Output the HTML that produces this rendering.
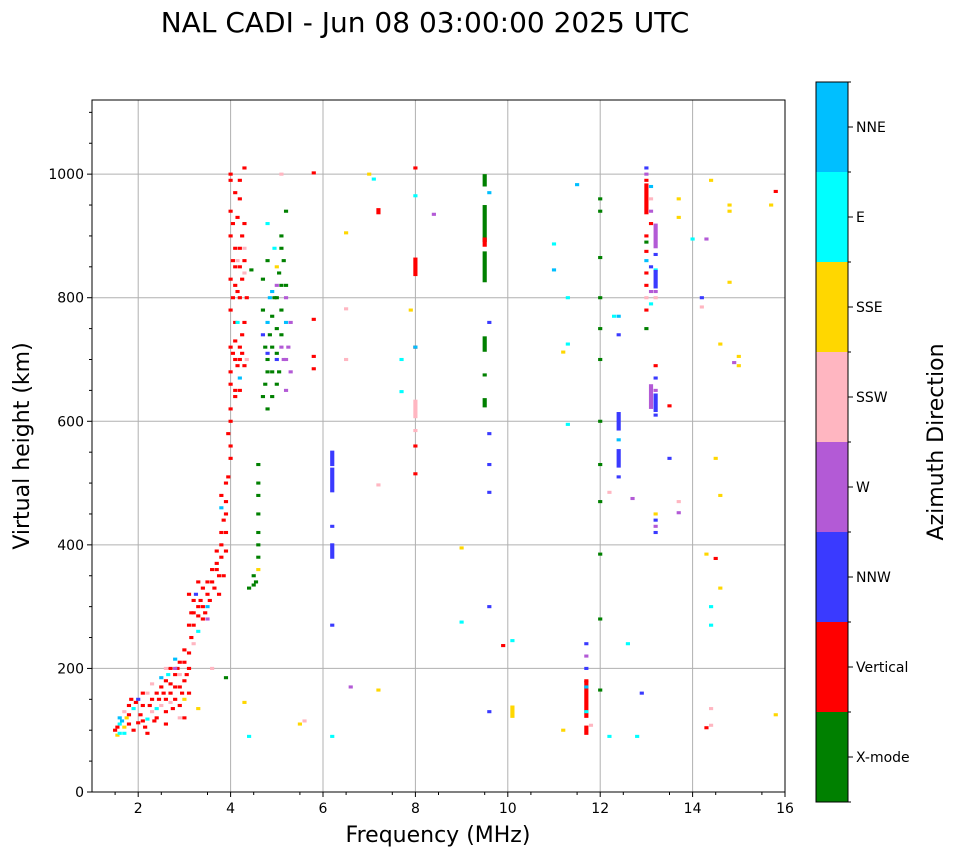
<!DOCTYPE html>
<html><head><meta charset="utf-8"><style>
body{margin:0;background:#fff;}
svg{display:block;font-family:"DejaVu Sans","Liberation Sans",sans-serif;}
</style></head><body>
<svg id="chart" width="958" height="857" xmlns="http://www.w3.org/2000/svg">
<text x="425" y="32" font-size="28" text-anchor="middle">NAL CADI - Jun 08 03:00:00 2025 UTC</text>
<g id="grid"></g>
<g id="marks"></g>
<rect x="92" y="100" width="693" height="692" fill="none" stroke="#000" stroke-width="1"/>
<g id="axes"></g>
<text x="438" y="842" font-size="22" text-anchor="middle">Frequency (MHz)</text>
<text transform="translate(29,446) rotate(-90)" font-size="22" text-anchor="middle">Virtual height (km)</text>
<g id="cbar"></g>
<text transform="translate(943,442) rotate(-90)" font-size="22" text-anchor="middle">Azimuth Direction</text>
</svg>
<script>
const directions=["X-mode","Vertical","NNW","W","SSW","SSE","E","NNE"];
const dirColors=["#008000","#ff0000","#3a3aff","#b35ad6","#ffb6c1","#ffd700","#00ffff","#00bfff"];
const xTicks=[2,4,6,8,10,12,14,16];
const yTicks=[0,200,400,600,800,1000];
// echoes: [frequency MHz, virtual height km, direction index, vertical span km]
const echoes=[
[1.5,100,1,5],[1.55,92,5,5],[1.6,110,6,5],[1.6,120,7,5],[1.7,105,5,5],[1.7,130,4,5],[1.8,125,1,5],[1.8,140,1,5],[1.9,100,1,5],[1.9,135,6,5],[2.0,112,1,5],[2.0,150,2,5],[2.1,115,1,5],[2.1,140,1,5],[2.2,95,1,5],[2.2,160,4,5],[2.2,118,6,5],[2.3,150,1,5],[2.3,130,4,5],[2.4,160,1,5],[2.4,120,1,5],[2.5,170,1,5],[2.5,140,4,5],[2.5,185,7,5],
[1.6,95,6,5],[1.65,115,7,5],[1.75,120,5,5],[1.8,110,1,5],[1.85,150,1,5],[1.95,145,1,5],[2.05,125,1,5],[2.1,160,1,5],[2.15,105,1,5],[2.25,140,1,5],[2.3,175,4,5],[2.35,115,1,5],[2.4,135,6,5],[2.45,150,1,5],[2.55,160,1,5],[2.6,150,1,5],[2.65,190,6,5],[2.7,175,1,5],[2.75,135,1,5],[2.8,170,1,5],[2.85,200,1,5],[2.9,190,4,5],[2.95,160,1,5],[3.0,210,1,5],[3.05,190,1,5],[3.1,225,1,5],[3.1,160,1,5],[3.0,120,1,5],[2.9,140,1,5],[2.6,110,1,5],[1.7,95,6,5],[1.55,105,1,5],
[2.6,180,1,5],[2.6,130,1,5],[2.6,200,4,5],[2.7,200,1,5],[2.7,160,1,5],[2.7,145,4,5],[2.8,190,1,5],[2.8,150,1,5],[2.8,215,7,5],[2.9,210,1,5],[2.9,170,1,5],[2.9,120,4,5],[3.0,230,1,5],[3.0,180,1,5],[3.0,150,5,5],[3.1,270,1,5],[3.1,320,1,5],[3.1,200,1,5],[3.15,250,1,5],
[3.2,290,1,5],[3.2,240,4,5],[3.3,300,1,5],[3.3,340,1,5],[3.3,135,5,5],[3.4,330,1,5],[3.4,280,1,5],[3.5,320,1,5],[3.5,300,7,5],[3.6,340,1,5],[3.6,200,4,5],[3.7,360,1,5],[3.7,390,1,5],[3.8,420,1,5],[3.8,380,1,5],[3.8,460,7,5],[3.85,350,1,5],[3.9,450,1,5],[3.9,500,1,5],[3.9,470,1,5],
[3.2,310,1,5],[3.25,320,2,5],[3.3,285,1,5],[3.35,310,1,5],[3.4,300,1,5],[3.45,290,1,5],[3.5,340,1,5],[3.55,310,1,5],[3.6,360,1,5],[3.65,330,1,5],[3.7,370,1,5],[3.75,350,1,5],[3.8,400,1,5],[3.85,440,1,5],[3.9,420,1,5],[3.95,510,1,5],[3.8,480,1,5],[3.9,390,1,5],[3.75,320,1,5],[3.2,270,1,5],[3.15,290,1,5],[3.3,260,6,5],
[4.0,560,1,5],[4.0,600,1,5],[4.0,620,1,5],[4.0,540,1,5],[4.1,650,1,5],[4.1,700,1,5],[4.2,720,1,5],[4.1,760,1,5],[4.2,800,1,5],[4.1,850,1,5],[4.2,880,1,5],[4.0,900,1,5],[4.2,960,1,5],[4.3,1010,1,5],[4.0,940,1,5],[4.1,820,1,5],[4.3,690,1,5],[4.2,670,7,5],[4.3,840,4,5],[4.0,990,1,5],[4.25,740,1,5],[4.15,860,4,5],[3.95,580,1,5],
[4.0,680,1,5],[4.05,710,1,5],[4.1,730,1,5],[4.15,690,1,5],[4.2,700,1,5],[4.25,710,1,5],[4.3,760,1,5],[4.0,780,1,5],[4.05,800,1,5],[4.15,810,1,5],[4.25,830,1,5],[4.3,860,1,5],[4.0,830,1,5],[4.05,860,1,5],[4.2,850,1,5],[4.1,880,1,5],[4.25,900,1,5],[4.05,920,1,5],[4.15,930,1,5],[4.3,880,4,5],[4.1,970,1,5],[4.2,990,1,5],[4.0,1000,1,5],[4.3,920,1,5],[4.1,640,1,5],[4.0,660,1,5],[4.2,650,1,5],[4.35,800,1,5],[4.35,700,4,5],[4.0,720,1,5],[4.15,760,6,5],
[4.4,330,0,5],[4.5,350,0,5],[4.6,400,0,5],[4.6,450,0,5],[4.6,500,0,5],[4.6,530,0,5],[4.6,480,0,5],[4.55,340,0,5],[3.9,185,0,5],[4.8,620,0,5],[4.8,700,0,5],[4.9,720,0,5],[4.9,680,0,5],[5.0,750,0,5],[5.0,800,0,5],[5.1,820,0,5],[4.8,860,0,5],[5.1,880,0,5],[5.2,940,0,5],[4.7,780,0,5],[5.0,660,0,5],[4.45,845,0,5],[5.1,780,0,5],[5.0,710,0,5],
[4.6,420,0,5],[4.6,380,0,5],[4.5,335,0,5],[4.6,360,5,5],[4.7,640,0,5],[4.75,660,0,5],[4.8,680,0,5],[4.85,740,0,5],[4.9,770,0,5],[4.95,800,0,5],[5.05,840,0,5],[5.15,860,0,5],[5.2,820,0,5],[5.1,740,0,5],[4.75,720,0,5],[4.9,640,0,5],[5.05,680,0,5],[4.7,830,0,5],[5.2,760,7,5],[5.15,700,3,5],[5.25,720,3,5],[5.0,850,5,5],[4.95,880,6,5],[4.85,800,7,5],[5.1,900,0,5],
[5.2,650,3,5],[5.2,700,3,5],[5.3,760,3,5],[5.2,800,3,5],[5.1,720,3,5],[5.3,680,3,5],[5.0,820,3,5],[2.8,200,3,5],[3.5,280,3,5],[4.7,740,2,5],[4.8,710,2,5],[5.0,700,2,5],[4.8,760,7,5],[4.9,810,7,5],[4.8,920,6,5],[4.4,90,6,5],[4.3,145,5,5],[5.5,110,5,5],[5.6,115,4,5],[5.1,1000,4,5],
[5.8,1002,1,5],[5.8,765,1,5],[5.8,705,1,5],[5.8,685,1,5],
[6.2,540,2,25],[6.2,505,2,40],[6.2,390,2,25],[6.2,430,2,5],[6.2,270,2,5],[6.2,90,6,5],[6.5,782,4,5],[6.5,700,4,5],[6.5,905,5,5],[6.6,170,3,5],[7.0,1000,5,5],[7.2,940,1,10],[7.2,497,4,5],[7.2,165,5,5],[7.1,992,6,5],[7.7,700,6,5],[7.7,648,6,5],
[8.0,1010,1,5],[8.0,850,1,30],[8.0,720,1,5],[8.0,560,1,5],[8.0,515,1,5],[8.0,620,4,30],[8.0,585,4,5],[8.0,965,6,5],[8.0,720,7,5],[7.9,780,5,5],[8.4,935,3,5],
[9.0,395,5,5],[9.0,275,6,5],[9.5,990,0,20],[9.5,850,0,50],[9.5,920,0,60],[9.5,725,0,25],[9.5,630,0,15],[9.5,675,0,5],[9.5,890,1,15],[9.6,760,2,5],[9.6,530,2,5],[9.6,485,2,5],[9.6,130,2,5],[9.6,300,2,5],[9.6,580,2,5],[9.6,970,7,5],[9.9,237,1,5],[10.1,130,5,20],[10.1,245,6,5],
[11.0,845,7,5],[11.0,887,6,5],[11.2,100,5,5],[11.2,712,5,5],[11.3,595,6,5],[11.3,725,6,5],[11.3,800,6,5],[11.5,983,7,5],[11.7,150,1,60],[11.7,100,1,15],[11.7,180,1,5],[11.7,240,2,5],[11.7,200,2,5],[11.8,108,4,5],[11.7,220,3,5],[11.7,170,7,5],[11.7,130,6,5],
[12,960,0,5],[12,940,0,5],[12,865,0,5],[12,800,0,5],[12,750,0,5],[12,700,0,5],[12,600,0,5],[12,470,0,5],[12,385,0,5],[12,280,0,5],[12,165,0,5],[12,530,0,5],[12.2,485,4,5],[12.2,90,6,5],
[12.4,600,2,30],[12.4,540,2,30],[12.4,510,2,5],[12.4,740,2,5],[12.4,770,7,5],[12.3,770,6,5],[12.6,240,6,5],[12.8,90,6,5],[12.7,475,3,5],[12.9,160,2,5],[12.4,570,7,5],
[13.0,960,1,50],[13.0,875,1,5],[13.0,900,1,5],[13.0,750,0,5],[13.0,890,0,5],[13.0,860,7,5],[13.1,980,7,5],[13.1,790,6,5],[13.2,845,6,5],[13.2,900,3,40],[13.1,640,3,40],[13.2,430,3,5],[13.1,810,3,5],[13.2,630,2,30],[13.2,670,2,5],[13.2,440,2,5],[13.2,830,2,30],[13.5,625,1,5],[13.5,540,2,5],
[13.0,1000,3,5],[13.0,1010,2,5],[13.0,990,1,5],[13.0,840,1,5],[13.0,820,1,5],[13.0,800,4,5],[13.0,780,1,5],[13.1,940,3,5],[13.1,960,4,5],[13.1,920,1,5],[13.1,850,2,5],[13.2,810,3,5],[13.2,800,4,5],[13.2,870,2,5],[13.2,690,1,5],[13.2,650,3,5],[13.2,610,2,5],[13.2,450,5,5],[13.2,420,2,5],
[13.7,452,3,5],[13.7,470,4,5],[13.7,960,5,5],[13.7,930,5,5],[14.0,895,6,5],[14.2,785,4,5],[14.2,800,2,5],[14.3,385,5,5],[14.3,895,3,5],[14.3,104,1,5],[14.4,990,5,5],[14.4,300,6,5],[14.4,270,6,5],[14.4,135,4,5],[14.4,108,4,5],[14.5,378,1,5],[14.5,540,5,5],
[14.6,480,5,5],[14.6,330,5,5],[14.6,725,5,5],[14.8,825,5,5],[14.8,950,5,5],[14.8,940,5,5],[15.0,705,5,5],[15.0,690,5,5],[14.9,695,3,5],[15.7,950,5,5],[15.8,972,1,5],[15.8,125,5,5]
];
const NS="http://www.w3.org/2000/svg";
const X0=92,X1=785,Y0=792,Y1=100,FMIN=1,FMAX=16,HMAX=1120;
const xs=f=>X0+(f-FMIN)/(FMAX-FMIN)*(X1-X0);
const ys=h=>Y0-h/HMAX*(Y0-Y1);
function mk(tag,attrs,parent){const e=document.createElementNS(NS,tag);for(const k in attrs)e.setAttribute(k,attrs[k]);parent.appendChild(e);return e;}
const grid=document.getElementById('grid'),axes=document.getElementById('axes'),marks=document.getElementById('marks'),cbar=document.getElementById('cbar');
xTicks.forEach(t=>{const x=xs(t);
 const g=mk('line',{x1:x,x2:x,y1:Y1,y2:Y0,stroke:'#b0b0b0','stroke-width':1},grid);
 
 
 mk('line',{x1:x,x2:x,y1:Y0,y2:Y0+5,stroke:'#000'},axes);
 const l=mk('text',{x:x,y:Y0+21,'font-size':14,'text-anchor':'middle'},axes);l.textContent=t;
 
 });
for(let f=1.5;f<16;f+=1){const x=xs(f);mk('line',{x1:x,x2:x,y1:Y0,y2:Y0+3,stroke:'#000'},axes);}
yTicks.forEach(t=>{const y=ys(t);
 const g=mk('line',{x1:X0,x2:X1,y1:y,y2:y,stroke:'#b0b0b0','stroke-width':1},grid);
 
 
 mk('line',{x1:X0-5,x2:X0,y1:y,y2:y,stroke:'#000'},axes);
 const l=mk('text',{x:X0-8,y:y+5,'font-size':14,'text-anchor':'end'},axes);l.textContent=t;
 
 });
for(let h=50;h<1120;h+=50){if(h%200===0)continue;const y=ys(h);mk('line',{x1:X0-3,x2:X0,y1:y,y2:y,stroke:'#000'},axes);}
const cw=(X1-X0)/(FMAX-FMIN)*0.09;
echoes.forEach(p=>{const f=p[0],h=p[1],d=p[2],s=p[3];
 const y2=ys(h-s/2),y1=ys(h+s/2);
 const r=mk('rect',{x:xs(f)-cw/2,y:y1,width:cw,height:Math.max(3,y2-y1),fill:dirColors[d]},marks);
 
 });
const CX=816,CW=32,CT=82,CB=802,ch=(CB-CT)/directions.length;
directions.forEach((n,i)=>{const y=CB-(i+1)*ch;
 const r=mk('rect',{x:CX,y:y,width:CW,height:ch,fill:dirColors[i]},cbar);
 
 
 const yc=y+ch/2;mk('line',{x1:CX+CW,x2:CX+CW+5,y1:yc,y2:yc,stroke:'#000'},cbar);
 const l=mk('text',{x:CX+CW+8,y:yc+5,'font-size':14},cbar);l.textContent=n;
 
 });
for(let i=0;i<=directions.length;i++){const y=CT+i*ch;mk('line',{x1:CX+CW,x2:CX+CW+3,y1:y,y2:y,stroke:'#000'},cbar);}
mk('rect',{x:CX,y:CT,width:CW,height:CB-CT,fill:'none',stroke:'#000'},cbar);
</script>
</body></html>
